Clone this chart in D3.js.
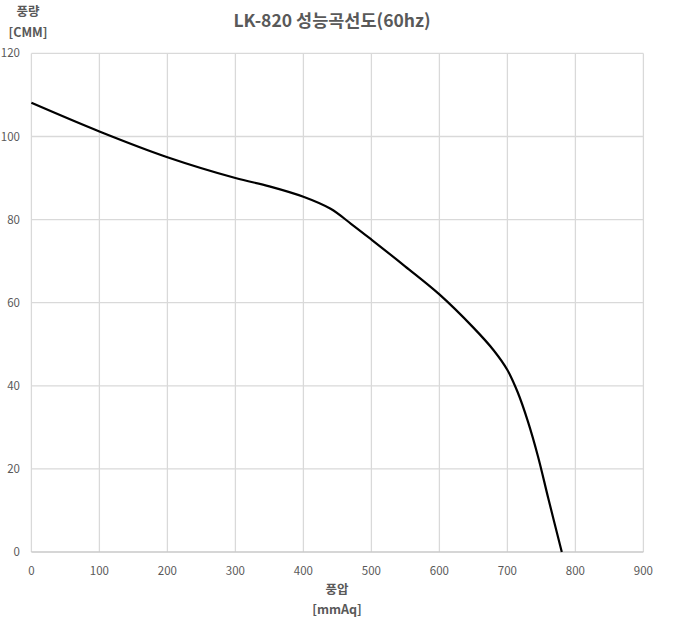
<!DOCTYPE html>
<html><head><meta charset="utf-8">
<script src="https://cdn.jsdelivr.net/npm/d3@7/dist/d3.min.js"></script>
<style>body{margin:0;background:#fff}svg{display:block}</style>
</head><body>
<script>
const pressure = [0,100,200,300,350,400,440,470,500,550,600,650,680,700,715,730,745,760,780];
const flow =     [108.1,101.2,95,90,88,85.5,82.6,79,75.2,68.7,62,54,48.5,43.8,38.5,31.5,23,13,0];
const xTicks = [0,100,200,300,400,500,600,700,800,900];
const yTicks = [0,20,40,60,80,100,120];
const title = "LK-820 성능곡선도(60hz)";
const yTitle = ["풍량","[CMM]"];
const xTitle = ["풍압","[mmAq]"];

const W=676,H=634;
const font = "'Noto Sans CJK KR','Noto Sans',sans-serif";
const svg=d3.select("body").append("svg").attr("width",W).attr("height",H);
const x=d3.scaleLinear().domain([0,900]).range([31.4,643.4]);
const y=d3.scaleLinear().domain([0,120]).range([552,53.4]);

svg.append("g").selectAll("line").data(xTicks).join("line")
  .attr("x1",d=>x(d)).attr("x2",d=>x(d)).attr("y1",y(0)).attr("y2",y(120))
  .attr("stroke","#d9d9d9").attr("stroke-width",1.3);
svg.append("g").selectAll("line").data(yTicks).join("line")
  .attr("x1",x(0)).attr("x2",x(900)).attr("y1",d=>y(d)).attr("y2",d=>y(d))
  .attr("stroke",d=>d===0?"#c8c8c8":"#d9d9d9").attr("stroke-width",1.3);

svg.append("g").selectAll("text").data(xTicks).join("text")
  .attr("x",d=>x(d)).attr("y",575).attr("text-anchor","middle")
  .attr("font-family",font).attr("font-size",11.5).attr("fill","#595959").text(d=>d);
svg.append("g").selectAll("text").data(yTicks).join("text")
  .attr("x",20).attr("y",d=>y(d)+4).attr("text-anchor","end")
  .attr("font-family",font).attr("font-size",11.5).attr("fill","#595959").text(d=>d);

const line=d3.line().x((d,i)=>x(pressure[i])).y(d=>y(d)).curve(d3.curveCatmullRom.alpha(0.5));
svg.append("path").attr("d",line(flow)).attr("fill","none").attr("stroke","#000").attr("stroke-width",2.2);

svg.append("text").attr("x",332).attr("y",27).attr("text-anchor","middle")
  .attr("font-family",font).attr("font-size",17.5).attr("font-weight","bold").attr("fill","#595959").text(title);
svg.append("g").selectAll("text").data(yTitle).join("text")
  .attr("x",28).attr("y",(d,i)=>i?37:16).attr("text-anchor","middle")
  .attr("font-family",font).attr("font-size",12.5).attr("font-weight","bold").attr("fill","#595959").text(d=>d);
svg.append("g").selectAll("text").data(xTitle).join("text")
  .attr("x",337).attr("y",(d,i)=>i?614:594).attr("text-anchor","middle")
  .attr("font-family",font).attr("font-size",12.5).attr("font-weight","bold").attr("fill","#595959").text(d=>d);
</script>
</body></html>
